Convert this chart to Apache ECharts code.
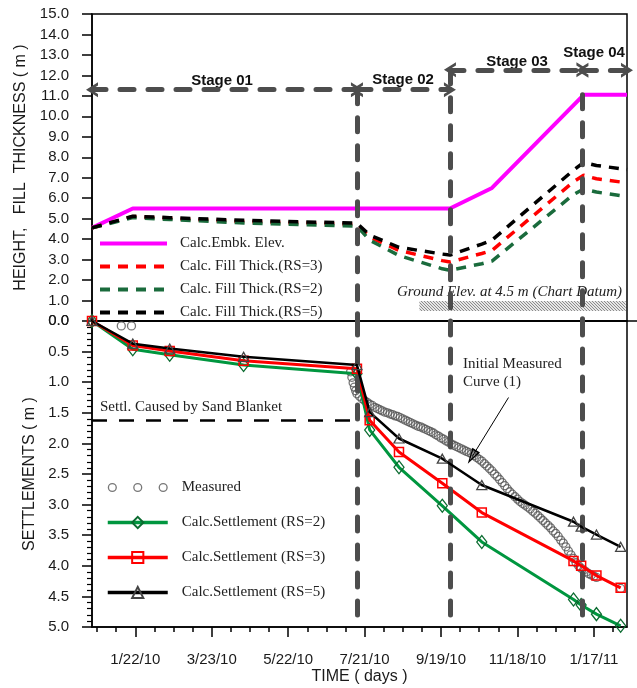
<!DOCTYPE html>
<html>
<head>
<meta charset="utf-8">
<title>Embankment height and settlement</title>
<script src="https://cdn.jsdelivr.net/npm/echarts@6.0.0/dist/echarts.min.js"></script>
<style>
	html, body { margin: 0; padding: 0; background: #fff; }
	#chart { width: 637px; height: 688px; }
</style>
</head>
<body>
<div id="chart"></div>
<script>
	// time axis is in days counted from 12/23/09
	const ORIGIN = Date.parse('2009-12-23')
	const toDay = d => (Date.parse(d) - ORIGIN) / 86400000
	const xy = (xs, ys) => xs.map((x, i) => [x, ys[i]])

	const majorTicks = [30, 90, 150, 210, 270, 330, 390]
	const tickLabels = ['1/22/10', '3/23/10', '5/22/10', '7/21/10', '9/19/10', '11/18/10', '1/17/11']
	const minorTicks = [0, 15, 30, 45, 60, 75, 90, 105, 120, 135, 150, 165, 180, 195, 210,
		225, 240, 255, 270, 285, 300, 315, 330, 345, 360, 375, 390, 405]

	// top panel : embankment elevation and fill thickness (m)
	const embkDates = ['2009-12-19', '2010-01-20', '2010-09-26', '2010-10-29', '2011-01-09', '2011-02-12']
	const embkElev = [4.55, 5.5, 5.5, 6.5, 11.05, 11.05]

	const fillDates = ['2009-12-19', '2010-01-20', '2010-02-18', '2010-04-17', '2010-07-15', '2010-07-25',
		'2010-08-17', '2010-09-20', '2010-09-26', '2010-10-21', '2010-10-29', '2011-01-01', '2011-01-09',
		'2011-01-19', '2011-02-12']
	const fillRS3 = [4.55, 5.1, 5.01, 4.86, 4.72, 4.1, 3.45, 2.95, 2.88, 3.3, 3.45, 6.8, 7.12, 6.95, 6.75]
	const fillRS2 = [4.55, 5.05, 4.96, 4.79, 4.64, 3.95, 3.2, 2.55, 2.48, 2.8, 2.93, 6.18, 6.45, 6.3, 6.08]
	const fillRS5 = [4.55, 5.12, 5.05, 4.92, 4.78, 4.2, 3.6, 3.27, 3.22, 3.76, 3.95, 7.37, 7.75, 7.6, 7.4]

	// bottom panel : settlements (m)
	const calcDates = ['2009-12-19', '2010-01-20', '2010-02-18', '2010-04-17', '2010-07-15', '2010-07-25',
		'2010-08-17', '2010-09-20', '2010-10-21', '2011-01-01', '2011-01-07', '2011-01-19', '2011-02-07']
	const settlRS2 = [0, 0.46, 0.55, 0.72, 0.86, 1.78, 2.39, 3.02, 3.61, 4.55, 4.64, 4.79, 4.98]
	const settlRS3 = [0, 0.40, 0.49, 0.65, 0.78, 1.62, 2.14, 2.65, 3.13, 3.92, 4.00, 4.16, 4.36]
	const settlRS5 = [0, 0.37, 0.45, 0.585, 0.72, 1.49, 1.92, 2.25, 2.68, 3.28, 3.36, 3.49, 3.69]

	const measuredDays = [19, 27, 199, 200, 201, 202, 203, 204,
		206, 208, 210, 212, 214, 216, 218, 220, 222, 224,
		226, 228, 230, 232, 234, 236, 238, 240, 242, 244,
		246, 248, 250, 252, 254, 256, 258, 260, 262, 264,
		266, 268, 270, 272, 274, 276, 278, 280, 282, 284,
		286, 288, 290, 292, 294, 296, 298, 300, 302, 304,
		306, 308, 310, 312, 314, 316, 318, 320, 322, 324,
		326, 328, 330, 332, 334, 336, 338, 340, 342, 344,
		346, 348, 350, 352, 354, 356, 358, 360, 362, 364,
		366, 368, 370, 372, 374, 376, 378, 380, 382, 384,
		386, 388, 390, 392, 411]
	const measuredSettl = [0.08, 0.08, 0.83, 0.92, 1.01, 1.08, 1.14, 1.19,
		1.23, 1.27, 1.30, 1.33, 1.36, 1.38, 1.41, 1.43, 1.45, 1.47,
		1.49, 1.50, 1.52, 1.53, 1.55, 1.56, 1.58, 1.60, 1.62, 1.64,
		1.66, 1.68, 1.70, 1.72, 1.73, 1.75, 1.77, 1.79, 1.81, 1.83,
		1.86, 1.88, 1.91, 1.93, 1.96, 1.98, 2.01, 2.03, 2.05, 2.07,
		2.09, 2.11, 2.13, 2.15, 2.17, 2.20, 2.23, 2.26, 2.29, 2.33,
		2.37, 2.41, 2.45, 2.50, 2.54, 2.59, 2.64, 2.69, 2.74, 2.79,
		2.83, 2.87, 2.91, 2.95, 2.98, 3.01, 3.04, 3.07, 3.11, 3.14,
		3.18, 3.22, 3.26, 3.30, 3.34, 3.38, 3.43, 3.47, 3.52, 3.58,
		3.63, 3.69, 3.76, 3.82, 3.88, 3.95, 4.00, 4.04, 4.07, 4.10,
		4.13, 4.15, 4.17, 4.19, 4.37]

	// stage boundaries (days) and arrow levels (m)
	const stageDays = [-4, 204, 277, 381, 416]
	const stageArrowY = [11.3, 11.3, 12.27, 12.25]
	const sandBlanket = 1.62

	const SANS = 'Liberation Sans'
	const SERIF = 'Liberation Serif'
	const CHEVRON = 'path://M0,12L7,0L14,12L11,12L7,5L3,12Z'
	const OPEN_TRI = 'path://M5,0L10,16L0,16Z M5,4.5L2.2,14.3L7.8,14.3Z'
	const RINGS = 'path://M0.5,5a4.5,4.5 0 1,0 9,0a4.5,4.5 0 1,0 -9,0Z M1.8,5a3.2,3.2 0 1,1 6.4,0a3.2,3.2 0 1,1 -6.4,0Z' +
		'M25.5,5a4.5,4.5 0 1,0 9,0a4.5,4.5 0 1,0 -9,0Z M26.8,5a3.2,3.2 0 1,1 6.4,0a3.2,3.2 0 1,1 -6.4,0Z' +
		'M50.5,5a4.5,4.5 0 1,0 9,0a4.5,4.5 0 1,0 -9,0Z M51.8,5a3.2,3.2 0 1,1 6.4,0a3.2,3.2 0 1,1 -6.4,0Z'

	const stageLine = { color: '#4d4d4d', width: 5, type: [14, 14], cap: 'round' }

	// hatched strip for the ground level
	const hatch = document.createElement('canvas')
	hatch.width = hatch.height = 3
	const hc = hatch.getContext('2d')
	hc.fillStyle = '#e6e6e6'
	hc.fillRect(0, 0, 3, 3)
	hc.strokeStyle = '#8c8c8c'
	hc.lineWidth = 1
	hc.beginPath()
	hc.moveTo(0, 0)
	hc.lineTo(3, 3)
	hc.stroke()

	function stageArrow(i) {
		const y = stageArrowY[i]
		return [
			{ coord: [stageDays[i], y], symbol: CHEVRON, symbolSize: [15, 12], lineStyle: stageLine },
			{ coord: [stageDays[i + 1], y], symbol: CHEVRON, symbolSize: [15, 12], lineStyle: stageLine }
		]
	}
	function vLine(day, y0, y1) {
		return [{ coord: [day, y0], lineStyle: stageLine }, { coord: [day, y1], lineStyle: stageLine }]
	}

	const fillDays = fillDates.map(toDay)
	const calcDays = calcDates.map(toDay)

	const tickFont = { fontFamily: SANS, fontSize: 15, color: '#1a1a1a' }
	const titleFont = { fontFamily: SANS, fontSize: 16, color: '#1a1a1a' }
	const legendText = { fontFamily: SERIF, fontSize: 15, color: '#222' }
	const tickLine = { color: '#000', width: 1.5 }

	const chart = echarts.init(document.getElementById('chart'))

	chart.setOption({
		animation: false,
		grid: [
			{ left: 92, right: 10, top: 14, height: 307, show: true, borderColor: '#000', borderWidth: 1.5 },
			{ left: 92, right: 10, top: 321, height: 306, show: true, borderColor: '#000', borderWidth: 1.5 }
		],
		xAxis: [{
			gridIndex: 0,
			type: 'value',
			min: -4,
			max: 416,
			axisLine: { onZero: false, lineStyle: tickLine },
			axisTick: { show: false },
			axisLabel: { show: false },
			splitLine: { show: false }
		}, {
			gridIndex: 1,
			type: 'value',
			position: 'bottom',
			min: -4,
			max: 416,
			name: 'TIME ( days )',
			nameLocation: 'middle',
			nameGap: 42,
			nameTextStyle: titleFont,
			axisLine: { onZero: false, lineStyle: tickLine },
			axisTick: { customValues: majorTicks, length: 10, lineStyle: tickLine },
			axisLabel: {
				customValues: majorTicks,
				margin: 25,
				formatter: v => tickLabels[majorTicks.indexOf(v)] || '',
				...tickFont
			},
			splitLine: { show: false }
		}, {
			// short ticks every 15 days
			gridIndex: 1,
			type: 'value',
			position: 'bottom',
			min: -4,
			max: 416,
			axisLine: { show: false, onZero: false },
			axisTick: { customValues: minorTicks, length: 5, lineStyle: tickLine },
			axisLabel: { show: false },
			splitLine: { show: false }
		}],
		yAxis: [{
			gridIndex: 0,
			type: 'value',
			min: 0,
			max: 15,
			interval: 1,
			name: 'HEIGHT,   FILL  THICKNESS ( m )',
			nameLocation: 'middle',
			nameGap: 62,
			nameTextStyle: titleFont,
			axisLine: { show: true, onZero: false, lineStyle: tickLine },
			axisTick: { show: true, length: 10, lineStyle: tickLine },
			axisLabel: { margin: 23, formatter: v => v.toFixed(1), ...tickFont },
			splitLine: { show: false }
		}, {
			gridIndex: 1,
			type: 'value',
			inverse: true,
			min: 0,
			max: 5,
			interval: 0.5,
			name: 'SETTLEMENTS ( m )',
			nameLocation: 'middle',
			nameGap: 54,
			nameTextStyle: titleFont,
			axisLine: { show: true, onZero: false, lineStyle: tickLine },
			axisTick: { show: true, length: 10, lineStyle: tickLine },
			minorTick: { show: true, splitNumber: 5, length: 5, lineStyle: { color: '#000', width: 1.2 } },
			axisLabel: { margin: 23, formatter: v => v.toFixed(1), ...tickFont },
			splitLine: { show: false }
		}],
		legend: [{
			data: ['Calc.Embk. Elev.', 'Calc. Fill Thick.(RS=3)', 'Calc. Fill Thick.(RS=2)', 'Calc. Fill Thick.(RS=5)'],
			orient: 'vertical',
			left: 98,
			top: 236,
			padding: 0,
			itemWidth: 67,
			itemHeight: 14,
			itemGap: 8,
			selectedMode: false,
			itemStyle: { opacity: 0 },
			lineStyle: { width: 4 },
			textStyle: { ...legendText, padding: [0, 0, 0, 8] }
		}, {
			data: [
				{ name: 'Measured', icon: RINGS, itemStyle: { color: '#555', borderWidth: 0 } },
				'Calc.Settlement (RS=2)', 'Calc.Settlement (RS=3)', 'Calc.Settlement (RS=5)'
			],
			orient: 'vertical',
			left: 106,
			top: 480,
			padding: 0,
			itemWidth: 60,
			itemHeight: 14,
			itemGap: 20,
			selectedMode: false,
			lineStyle: { width: 3.5 },
			textStyle: { ...legendText, padding: [0, 0, 0, 9] }
		}],
		graphic: [
			{ type: 'text', x: 222, y: 81, style: { text: 'Stage 01', font: 'bold 15px ' + SANS, fill: '#111', align: 'center', verticalAlign: 'middle' } },
			{ type: 'text', x: 403, y: 80, style: { text: 'Stage 02', font: 'bold 15px ' + SANS, fill: '#111', align: 'center', verticalAlign: 'middle' } },
			{ type: 'text', x: 517, y: 62, style: { text: 'Stage 03', font: 'bold 15px ' + SANS, fill: '#111', align: 'center', verticalAlign: 'middle' } },
			{ type: 'text', x: 594, y: 53, style: { text: 'Stage 04', font: 'bold 15px ' + SANS, fill: '#111', align: 'center', verticalAlign: 'middle' } },
			{ type: 'text', x: 622, y: 292, style: { text: 'Ground Elev. at 4.5 m (Chart Datum)', font: 'italic 15px ' + SERIF, fill: '#222', align: 'right', verticalAlign: 'middle' } },
			{ type: 'text', x: 100, y: 407, style: { text: 'Settl. Caused by Sand Blanket', font: '15px ' + SERIF, fill: '#222', align: 'left', verticalAlign: 'middle' } },
			{ type: 'text', x: 463, y: 373, style: { text: 'Initial Measured\nCurve (1)', font: '15px ' + SERIF, lineHeight: 17.5, fill: '#222', align: 'left', verticalAlign: 'middle' } },
			{ type: 'line', shape: { x1: 627, y1: 321, x2: 637, y2: 321 }, style: { stroke: '#000', lineWidth: 1.5 } }
		],
		series: [{
			name: 'Calc.Embk. Elev.',
			type: 'line',
			xAxisIndex: 0,
			yAxisIndex: 0,
			data: xy(embkDates.map(toDay), embkElev),
			symbol: 'none',
			clip: false,
			color: '#ff00ff',
			lineStyle: { color: '#ff00ff', width: 4 },
			z: 3,
			markLine: {
				silent: true,
				symbol: ['none', 'none'],
				label: { show: false },
				data: [
					stageArrow(0), stageArrow(1), stageArrow(2), stageArrow(3),
					vLine(stageDays[1], stageArrowY[0], 0),
					vLine(stageDays[2], stageArrowY[2], 0),
					vLine(stageDays[3], 11.05, 0)
				]
			},
			markArea: {
				silent: true,
				itemStyle: { color: { image: hatch, repeat: 'repeat' } },
				data: [[{ coord: [253, 0.98] }, { coord: [415, 0.49] }]]
			}
		}, {
			name: 'Calc. Fill Thick.(RS=3)',
			type: 'line',
			xAxisIndex: 0,
			yAxisIndex: 0,
			data: xy(fillDays, fillRS3),
			symbol: 'none',
			color: '#ff0000',
			lineStyle: { color: '#ff0000', width: 3.5, type: [10, 8] }
		}, {
			name: 'Calc. Fill Thick.(RS=2)',
			type: 'line',
			xAxisIndex: 0,
			yAxisIndex: 0,
			data: xy(fillDays, fillRS2),
			symbol: 'none',
			color: '#1a6b3c',
			lineStyle: { color: '#1a6b3c', width: 3.5, type: [10, 8] }
		}, {
			name: 'Calc. Fill Thick.(RS=5)',
			type: 'line',
			xAxisIndex: 0,
			yAxisIndex: 0,
			data: xy(fillDays, fillRS5),
			symbol: 'none',
			color: '#000',
			lineStyle: { color: '#000', width: 3.5, type: [10, 8] }
		}, {
			name: 'Measured',
			type: 'scatter',
			xAxisIndex: 1,
			yAxisIndex: 1,
			data: xy(measuredDays, measuredSettl),
			symbol: 'circle',
			symbolSize: 8,
			clip: false,
			itemStyle: { color: 'transparent', borderColor: '#555', borderWidth: 1.3 },
			z: 2,
			markLine: {
				silent: true,
				symbol: ['none', 'none'],
				label: { show: false },
				data: [
					vLine(stageDays[1], 0, 5),
					vLine(stageDays[2], 0, 5),
					vLine(stageDays[3], 0, 5),
					[
						{ coord: [-4, sandBlanket], lineStyle: { color: '#000', width: 2.5, type: [15, 12] } },
						{ coord: [199, sandBlanket], lineStyle: { color: '#000', width: 2.5, type: [15, 12] } }
					],
					[
						{ coord: [323, 1.25], lineStyle: { color: '#000', width: 1, type: 'solid' } },
						{ coord: [294.3, 2.22], symbol: OPEN_TRI, symbolSize: [9, 16], lineStyle: { color: '#000', width: 1, type: 'solid' } }
					]
				]
			}
		}, {
			name: 'Calc.Settlement (RS=2)',
			type: 'line',
			xAxisIndex: 1,
			yAxisIndex: 1,
			data: xy(calcDays, settlRS2),
			symbol: 'diamond',
			symbolSize: [10, 13],
			showAllSymbol: true,
			color: '#00963f',
			lineStyle: { color: '#00963f', width: 3 },
			itemStyle: { color: 'transparent', borderColor: '#0b6b30', borderWidth: 1.3 },
			z: 3
		}, {
			name: 'Calc.Settlement (RS=3)',
			type: 'line',
			xAxisIndex: 1,
			yAxisIndex: 1,
			data: xy(calcDays, settlRS3),
			symbol: 'rect',
			symbolSize: 9,
			showAllSymbol: true,
			color: '#ff0000',
			lineStyle: { color: '#ff0000', width: 3 },
			itemStyle: { color: 'transparent', borderColor: '#ff0000', borderWidth: 1.5 },
			z: 4
		}, {
			name: 'Calc.Settlement (RS=5)',
			type: 'line',
			xAxisIndex: 1,
			yAxisIndex: 1,
			data: xy(calcDays, settlRS5),
			symbol: 'triangle',
			symbolSize: [10, 9],
			showAllSymbol: true,
			color: '#000',
			lineStyle: { color: '#000', width: 2.5 },
			itemStyle: { color: 'transparent', borderColor: '#444', borderWidth: 1.3 },
			z: 5
		}]
	})
</script>
</body>
</html>
